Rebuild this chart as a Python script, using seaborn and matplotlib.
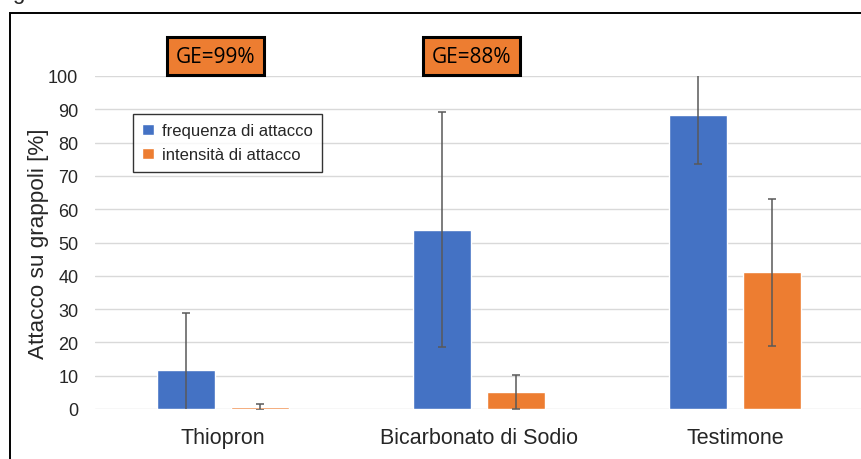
import matplotlib
matplotlib.use("Agg")
import matplotlib.pyplot as plt
from matplotlib.patches import Rectangle
from matplotlib.transforms import blended_transform_factory
import numpy as np
import pandas as pd
import seaborn as sns

# Treatments and measured attack on grape bunches
categories = ["Thiopron", "Bicarbonato di Sodio", "Testimone"]
series = ["frequenza di attacco", "intensità di attacco"]
frequenza = [11.7, 53.8, 88.3]
frequenza_err = [17.1, 35.3, 14.7]
intensita = [0.5, 5.1, 41.1]
intensita_err = [0.9, 5.1, 22.1]
efficacy_labels = ["GE=99%", "GE=88%"]
y_ticks = [0, 10, 20, 30, 40, 50, 60, 70, 80, 90, 100]

BLUE = "#4472C4"
ORANGE = "#ED7D31"

df = pd.DataFrame({
    "trattamento": categories * 2,
    "serie": [series[0]] * 3 + [series[1]] * 3,
    "valore": frequenza + intensita,
})

sns.set_theme(style="white")
plt.rcParams["font.family"] = ["Liberation Sans", "DejaVu Sans"]

W, H = 862, 460
fig = plt.figure(figsize=(W / 100, H / 100), dpi=100)
ax = fig.add_axes([95 / W, 1 - 410 / H, 768 / W, 333 / H])

sns.barplot(data=df, x="trattamento", y="valore", hue="serie",
            order=categories, hue_order=series,
            palette=[BLUE, ORANGE], errorbar=None,
            width=0.58, gap=0.22, saturation=1, ax=ax, zorder=2)

# standard-deviation whiskers on each bar
for container, errs in zip(ax.containers, [frequenza_err, intensita_err]):
    for bar, e in zip(container, errs):
        xc = bar.get_x() + bar.get_width() / 2
        ax.errorbar(xc, bar.get_height(), yerr=e, fmt="none",
                    ecolor="#595959", elinewidth=1.1, capsize=3,
                    capthick=1.1, zorder=3)

ax.set_ylim(0, 100)
ax.set_xlim(-0.5, 2.5)
ax.set_yticks(y_ticks)
ax.yaxis.grid(True, color="#D9D9D9", linewidth=1.0, zorder=0)
ax.set_axisbelow(True)
for s in ax.spines.values():
    s.set_visible(False)
ax.tick_params(axis="y", length=0, pad=12, labelsize=13)
ax.tick_params(axis="x", length=0, pad=13, labelsize=15.5)
ax.set_xlabel("")
ax.set_ylabel("Attacco su grappoli [%]", fontsize=16.2)
ax.yaxis.set_label_coords(-46 / 768, 0.5)

leg = ax.legend(loc="upper left", bbox_to_anchor=(133 / W, 1 - 115 / H),
                bbox_transform=fig.transFigure, frameon=True, fancybox=False,
                fontsize=12, handlelength=0.7, handleheight=0.7,
                handletextpad=0.5, borderpad=0.55, labelspacing=0.55,
                borderaxespad=0)
leg.get_frame().set_edgecolor("black")
leg.get_frame().set_linewidth(1.0)

# efficacy boxes above the treated groups
trans = blended_transform_factory(ax.transData, ax.transAxes)
for i, label in enumerate(efficacy_labels):
    ax.text(i - 0.03, 1.060, label, transform=trans, ha="center", va="center",
            fontsize=15, family=["Open Sans", "DejaVu Sans"], color="black",
            clip_on=False,
            bbox=dict(boxstyle="square,pad=0.42", facecolor=ORANGE,
                      edgecolor="black", linewidth=2.2))

# outer chart frame
fig.add_artist(Rectangle((10.5 / W, -0.1), 2.0, 1.1 - 14 / H,
                         transform=fig.transFigure, fill=False,
                         edgecolor="black", linewidth=1.4))
fig.text(12 / W, 1 + 1.5 / H, "g", fontsize=16, va="baseline", ha="left")

fig.savefig("out.png", dpi=100)
